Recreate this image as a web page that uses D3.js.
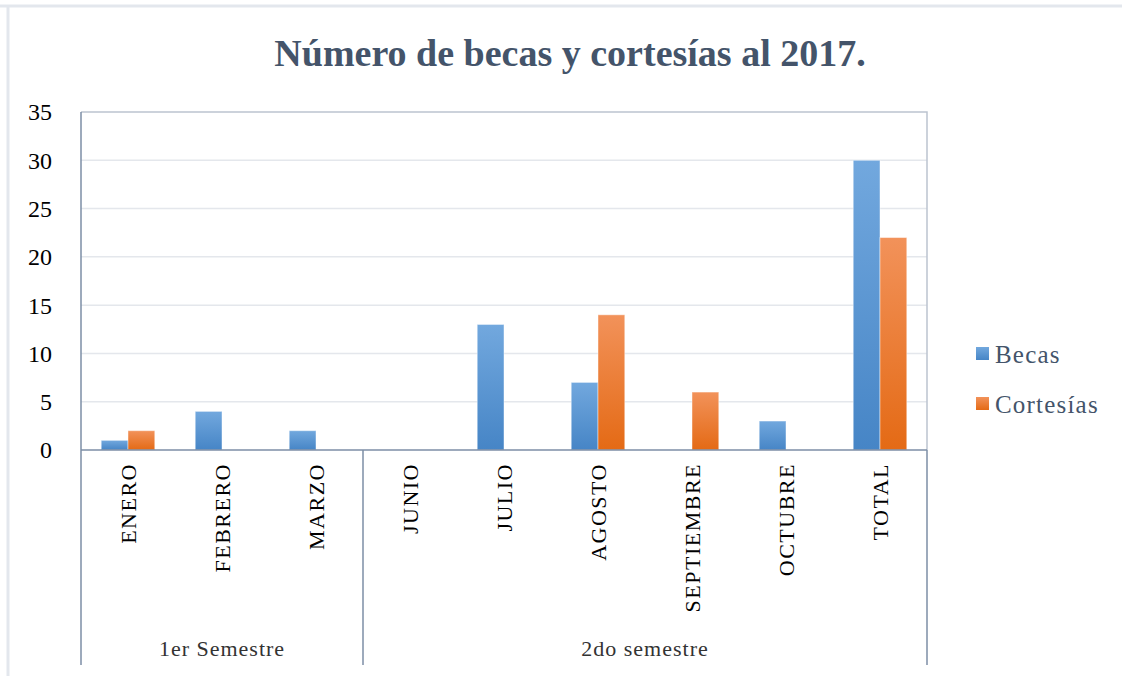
<!DOCTYPE html>
<html lang="es">
<head>
    <meta charset="UTF-8">
    <title>Número de becas y cortesías al 2017.</title>
    <script src="https://d3js.org/d3.v7.min.js"></script>
    <style>
        body { margin: 0; background: #fff; }
        svg { display: block; font-family: "Liberation Serif", "Times New Roman", serif; }
        .grid line { stroke: #e4e7ec; stroke-width: 1.5px; }
        .ytick { font-size: 24px; fill: #000; }
        .cat { font-size: 22px; fill: #000; letter-spacing: 1.5px; }
        .group { font-size: 22px; fill: #333; letter-spacing: 1px; }
        .legend text { font-size: 25px; fill: #44546a; letter-spacing: 1.2px; }
    </style>
</head>
<body>
    <svg width="1122" height="676"></svg>
    <script>
        const months = ["ENERO", "FEBRERO", "MARZO", "JUNIO", "JULIO", "AGOSTO", "SEPTIEMBRE", "OCTUBRE", "TOTAL"];
        const groups = [
            { name: "1er Semestre", from: "ENERO", to: "MARZO" },
            { name: "2do semestre", from: "JUNIO", to: "TOTAL" }
        ];
        const seriesNames = ["Becas", "Cortesías"];
        const becas = [1, 4, 2, 0, 13, 7, 0, 3, 30];
        const cortesias = [2, 0, 0, 0, 0, 14, 6, 0, 22];
        const yTicks = [0, 5, 10, 15, 20, 25, 30, 35];

        const svg = d3.select("svg");
        const plotLeft = 81, plotRight = 927, plotTop = 112, plotBottom = 450, groupBottom = 665;

        // frame of the chart picture
        svg.append("line").attr("x1", 0).attr("x2", 1122).attr("y1", 6).attr("y2", 6)
            .attr("stroke", "#e3e7ed").attr("stroke-width", 3);
        svg.append("line").attr("x1", 8).attr("x2", 8).attr("y1", 5).attr("y2", 676)
            .attr("stroke", "#e3e7ed").attr("stroke-width", 3);

        svg.append("text")
            .attr("x", 570).attr("y", 66)
            .attr("text-anchor", "middle")
            .attr("font-size", "38px").attr("font-weight", "bold")
            .attr("fill", "#44546a")
            .text("Número de becas y cortesías al 2017.");

        const x0 = d3.scaleBand().domain(months).range([plotLeft, plotRight]).padding(0);
        const x1 = d3.scaleBand().domain(seriesNames)
            .range([x0.bandwidth() * 0.215, x0.bandwidth() * 0.785]).padding(0);
        const y = d3.scaleLinear().domain([0, 35]).range([plotBottom, plotTop]);

        // gridlines
        svg.append("g").attr("class", "grid")
            .selectAll("line").data(yTicks.filter(d => d > 0 && d < 35)).join("line")
            .attr("x1", plotLeft).attr("x2", plotRight)
            .attr("y1", d => y(d)).attr("y2", d => y(d));

        // plot border (top and right)
        svg.append("path")
            .attr("d", `M${plotLeft},${y(35)}H${plotRight}V${plotBottom}`)
            .attr("fill", "none").attr("stroke", "#bcc4cf").attr("stroke-width", 1.5);

        // y tick labels
        svg.append("g").selectAll("text").data(yTicks).join("text")
            .attr("class", "ytick")
            .attr("x", 52).attr("y", d => y(d))
            .attr("dy", "0.35em")
            .attr("text-anchor", "end")
            .text(d => d);

        // gradients
        const defs = svg.append("defs");
        const grads = [
            { id: "gBecas", top: "#72a8de", bottom: "#4685c6" },
            { id: "gCort", top: "#f2925a", bottom: "#e46a15" }
        ];
        grads.forEach(g => {
            const lg = defs.append("linearGradient").attr("id", g.id)
                .attr("x1", 0).attr("y1", 0).attr("x2", 0).attr("y2", 1);
            lg.append("stop").attr("offset", "0%").attr("stop-color", g.top);
            lg.append("stop").attr("offset", "100%").attr("stop-color", g.bottom);
        });
        const fills = { "Becas": "url(#gBecas)", "Cortesías": "url(#gCort)" };

        const rows = months.map((m, i) => ({ month: m, values: [
            { key: "Becas", value: becas[i] },
            { key: "Cortesías", value: cortesias[i] }
        ] }));

        svg.append("g").selectAll("g").data(rows).join("g")
            .attr("transform", d => `translate(${x0(d.month)},0)`)
            .selectAll("rect").data(d => d.values.filter(v => v.value > 0)).join("rect")
            .attr("x", d => x1(d.key))
            .attr("width", x1.bandwidth())
            .attr("y", d => y(d.value))
            .attr("height", d => y(0) - y(d.value))
            .attr("fill", d => fills[d.key])
            .attr("stroke", "rgba(255,255,255,0.45)")
            .attr("stroke-width", 1);

        // category axis with group dividers
        const axisColor = "#7d8ea6";
        svg.append("line").attr("x1", plotLeft).attr("x2", plotRight)
            .attr("y1", plotBottom).attr("y2", plotBottom)
            .attr("stroke", axisColor).attr("stroke-width", 1.5);
        const dividers = [plotLeft, x0(groups[1].from), plotRight];
        svg.append("g").selectAll("line").data(dividers).join("line")
            .attr("x1", d => d).attr("x2", d => d)
            .attr("y1", (d, i) => i === 0 ? plotTop : plotBottom).attr("y2", groupBottom)
            .attr("stroke", axisColor)
            .attr("stroke-width", 1.5);

        svg.append("g").selectAll("text").data(months).join("text")
            .attr("class", "cat")
            .attr("transform", d => `translate(${x0(d) + x0.bandwidth() / 2 + 8},463) rotate(-90)`)
            .attr("text-anchor", "end")
            .text(d => d);

        svg.append("g").selectAll("text").data(groups).join("text")
            .attr("class", "group")
            .attr("x", d => (x0(d.from) + x0(d.to) + x0.bandwidth()) / 2)
            .attr("y", 656)
            .attr("text-anchor", "middle")
            .text(d => d.name);

        // legend
        const legend = svg.append("g").attr("class", "legend")
            .selectAll("g").data(seriesNames).join("g")
            .attr("transform", (d, i) => `translate(976,${347 + i * 50})`);
        legend.append("rect").attr("width", 13).attr("height", 13)
            .attr("fill", d => fills[d]);
        legend.append("text").attr("x", 19).attr("y", 7).attr("dy", "0.35em")
            .text(d => d);
    </script>
</body>
</html>
